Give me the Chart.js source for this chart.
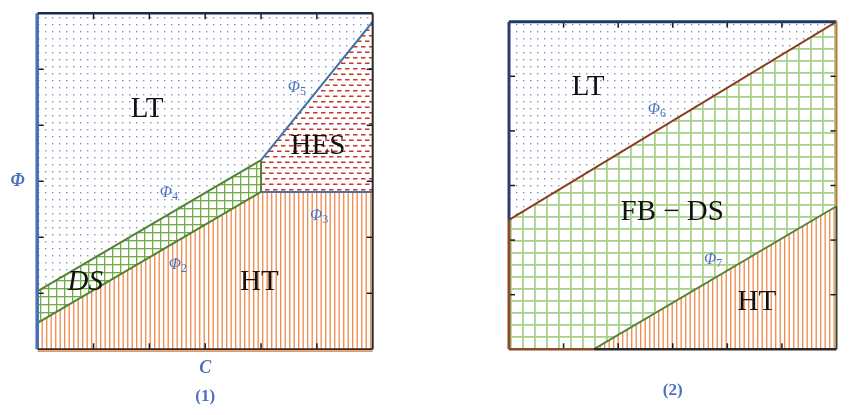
<!DOCTYPE html>
<html>
<head>
<meta charset="utf-8">
<script src="https://cdn.jsdelivr.net/npm/chart.js@4.4.0/dist/chart.umd.min.js"></script>
<style>
  body { margin: 0; background: #fff; }
  canvas { position: absolute; top: 0; }
  #left { left: 0; }
  #right { left: 450px; }
</style>
</head>
<body>
<canvas id="left" width="400" height="415"></canvas>
<canvas id="right" width="400" height="415"></canvas>
<script>
// both panels: x = C, y = Φ, on a 0..6 frame with inner ticks at 1..5
const tickVals = [1, 2, 3, 4, 5];

// panel (1) boundaries, [C, Φ]
const phi2 = [[0, 0.47], [4, 2.81]];
const phi3 = [[4, 2.81], [6, 2.81]];
const phi4 = [[0, 1.04], [4, 3.38]];
const phi5 = [[4, 3.38], [6, 5.85]];
const dsEdge = [[4, 2.81], [4, 3.38]];

// panel (2) boundaries
const phi6 = [[0, 2.37], [6, 6]];
const phi7 = [[1.55, 0], [6, 2.62]];

// region names and where they are written (data coords)
const labels1 = [
  { t: 'LT', x: 1.96, y: 4.29 },
  { t: 'HES', x: 5.02, y: 3.63 },
  { t: 'DS', x: 0.85, y: 1.2, it: true },
  { t: 'HT', x: 3.97, y: 1.2 }
];
const phiLabels1 = [
  { n: '5', x: 4.66, y: 4.67 },
  { n: '4', x: 2.37, y: 2.79 },
  { n: '2', x: 2.53, y: 1.51 },
  { n: '3', x: 5.06, y: 2.38 }
];
const labels2 = [
  { t: 'LT', x: 1.45, y: 4.8 },
  { t: 'FB \u2212 DS', x: 2.99, y: 2.51 },
  { t: 'HT', x: 4.54, y: 0.85 }
];
const phiLabels2 = [
  { n: '6', x: 2.73, y: 4.38 },
  { n: '7', x: 3.76, y: 1.64 }
];

const pts = a => a.map(([x, y]) => ({ x, y }));

function tile(w, h, draw) {
  const c = document.createElement('canvas');
  c.width = w; c.height = h;
  const g = c.getContext('2d');
  g.fillStyle = '#fff';
  g.fillRect(0, 0, w, h);
  draw(g);
  return g.createPattern(c, 'repeat');
}
const dots = tile(7, 7, g => {
  g.fillStyle = '#7f90c6';
  g.fillRect(3, 3, 1.4, 1.4);
});
const stripes = tile(9, 4, g => {
  g.fillStyle = '#ef9258';
  g.fillRect(1, 0, 1.4, 4);
  g.fillRect(5.5, 0, 1.4, 4);
});
const gridDark = tile(8, 8, g => {
  g.fillStyle = '#70ad47';
  g.fillRect(0, 0, 8, 1.3);
  g.fillRect(0, 0, 1.3, 8);
});
const gridLight = tile(12, 12, g => {
  g.fillStyle = '#a9d18e';
  g.fillRect(0, 0, 12, 1.8);
  g.fillRect(0, 0, 1.8, 12);
});
const dashes = tile(8, 11, g => {
  g.fillStyle = '#c0392b';
  g.fillRect(1, 2, 4.5, 1.5);
  g.fillRect(5, 7.5, 3, 1.5);
  g.fillRect(0, 7.5, 1.5, 1.5);
});

function region(data, bg) {
  return { data: pts(data), backgroundColor: bg, borderWidth: 0, fill: 'shape', pointRadius: 0, order: 2 };
}
function edge(data, color, w) {
  return { data: pts(data), borderColor: color, borderWidth: w || 2, fill: false, pointRadius: 0, order: 1 };
}

function drawPhi(ctx, n, px, py) {
  ctx.fillStyle = '#4a72c0';
  ctx.font = 'italic 16px "Liberation Serif"';
  ctx.textAlign = 'right';
  ctx.textBaseline = 'middle';
  ctx.fillText('\u03A6', px + 2, py);
  ctx.font = '12px "Liberation Serif"';
  ctx.textAlign = 'left';
  ctx.fillText(n, px + 2, py + 4);
}

const frame = {
  id: 'frame',
  afterDatasetsDraw(chart, args, o) {
    const { ctx, chartArea: a, scales: { x, y } } = chart;
    const X = v => x.getPixelForValue(v), Y = v => y.getPixelForValue(v);
    const seg = (x1, y1, x2, y2) => { ctx.beginPath(); ctx.moveTo(x1, y1); ctx.lineTo(x2, y2); ctx.stroke(); };
    ctx.save();
    ctx.strokeStyle = '#1a1a1a';
    ctx.lineWidth = 1.5;
    tickVals.forEach(v => {
      seg(X(v), a.bottom, X(v), a.bottom - 6);
      seg(X(v), a.top, X(v), a.top + 6);
      seg(a.left, Y(v), a.left + 6, Y(v));
      seg(a.right, Y(v), a.right - 6, Y(v));
    });
    o.borders.forEach(b => {
      ctx.strokeStyle = b.c;
      ctx.lineWidth = b.w;
      seg(X(b.p[0]) + (b.dx || 0), Y(b.p[1]) + (b.dy || 0), X(b.p[2]) + (b.dx || 0), Y(b.p[3]) + (b.dy || 0));
    });
    ctx.textAlign = 'center';
    ctx.textBaseline = 'middle';
    ctx.fillStyle = '#111';
    o.labels.forEach(l => {
      ctx.font = (l.it ? 'italic ' : '') + '29px "Liberation Serif"';
      ctx.fillText(l.t, X(l.x), Y(l.y));
    });
    o.phis.forEach(p => drawPhi(ctx, p.n, X(p.x), Y(p.y)));
    ctx.fillStyle = '#4a72c0';
    ctx.textAlign = 'center';
    const cx = (a.left + a.right) / 2;
    if (o.axes) {
      ctx.font = 'bold italic 18px "Liberation Serif"';
      ctx.fillText('\u03A6', a.left - 20, Y(3));
      ctx.fillText('C', cx, a.bottom + 19);
    }
    ctx.font = 'bold 17px "Liberation Serif"';
    ctx.fillText(o.name, cx, a.bottom + o.nameDy);
    ctx.restore();
  }
};

function opts(pad, f) {
  return {
    responsive: false,
    animation: false,
    devicePixelRatio: 1,
    layout: { padding: pad },
    scales: {
      x: { type: 'linear', min: 0, max: 6, display: false },
      y: { type: 'linear', min: 0, max: 6, display: false }
    },
    plugins: { legend: { display: false }, tooltip: { enabled: false }, frame: f }
  };
}

new Chart(document.getElementById('left'), {
  type: 'line',
  data: {
    datasets: [
      edge(phi4, '#548235'),
      edge(phi2, '#548235'),
      edge(dsEdge, '#548235'),
      edge(phi3, '#4f6f9f'),
      edge(phi5, '#4472a8'),
      region([[0, 6], ...phi4, phi5[1], [6, 6]], dots),
      region([...phi4, dsEdge[0], phi2[0]], gridDark),
      region([...phi5, phi3[1], phi3[0]], dashes),
      region([...phi2, phi3[1], [6, 0], [0, 0]], stripes)
    ]
  },
  options: opts({ left: 37.7, top: 13.3, right: 27.3, bottom: 65.7 }, {
    labels: labels1,
    phis: phiLabels1,
    axes: true,
    name: '(1)',
    nameDy: 47,
    borders: [
      { p: [0, 0, 0, 6], c: '#4a6fb5', w: 3.5, dx: -0.5 },
      { p: [0, 6, 6, 6], c: '#1c2a4a', w: 2.5 },
      { p: [6, 6, 6, 0], c: '#2a2a2a', w: 2 },
      { p: [0, 0, 6, 0], c: '#2a2a2a', w: 2 },
      { p: [0, 0, 6, 0], c: '#f0955a', w: 1.5, dy: 2 }
    ]
  }),
  plugins: [frame]
});

new Chart(document.getElementById('right'), {
  type: 'line',
  data: {
    datasets: [
      edge(phi6, '#8b3a1e'),
      edge(phi7, '#548235'),
      region([[0, 6], ...phi6], dots),
      region([...phi6, phi7[1], phi7[0], [0, 0]], gridLight),
      region([...phi7, [6, 0]], stripes)
    ]
  },
  options: opts({ left: 59, top: 21.7, right: 13.5, bottom: 65.7 }, {
    labels: labels2,
    phis: phiLabels2,
    axes: false,
    name: '(2)',
    nameDy: 41,
    borders: [
      { p: [0, 6, 6, 6], c: '#1f3864', w: 3 },
      { p: [0, 6, 0, 2.37], c: '#2a3f6e', w: 3 },
      { p: [0, 2.37, 0, 0], c: '#8b4a2b', w: 3 },
      { p: [6, 6, 6, 2.62], c: '#c8703a', w: 2 },
      { p: [6, 2.62, 6, 0], c: '#2f4a2f', w: 2 },
      { p: [0, 0, 1.55, 0], c: '#8b4a2b', w: 2.5 },
      { p: [1.55, 0, 6, 0], c: '#2a2a2a', w: 2.5 }
    ]
  }),
  plugins: [frame]
});
</script>
</body>
</html>
